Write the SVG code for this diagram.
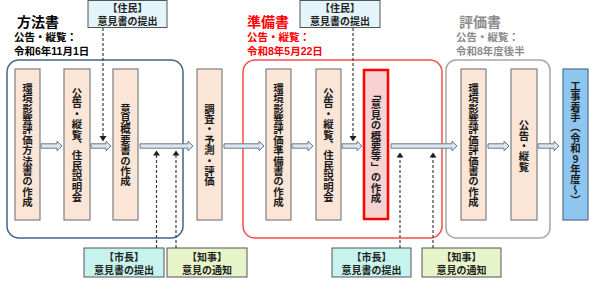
<svg xmlns="http://www.w3.org/2000/svg" width="610" height="284" viewBox="0 0 610 284">
<style>
text{font-family:"Liberation Sans","Noto Sans CJK JP",sans-serif;font-weight:bold;}
.node{fill:#fbe5d6;stroke:#7f7f7f;stroke-width:1.2;}
.vt{font-family:"Noto Sans CJK JP",sans-serif;writing-mode:vertical-rl;font-size:10.4px;fill:#1a1a1a;text-anchor:middle;}
.arr{fill:#dde5ee;stroke:#6a7a8b;stroke-width:1;}
.dash{stroke:#404040;stroke-width:1.2;stroke-dasharray:3 2;fill:none;}
.head{fill:#202020;}
.lbl{font-size:10px;fill:#222;text-anchor:middle;}
.title{font-size:14px;}
.sub{font-size:10.5px;}
.jumin{fill:#e3f4fb;stroke:#555;stroke-width:1;}
.shicho{fill:#c6f3ee;stroke:#555;stroke-width:1;}
.chiji{fill:#e7f3c9;stroke:#555;stroke-width:1;}
</style>

<g id="groups">
  <rect x="7" y="60" width="176" height="178" rx="12" fill="none" stroke="#41648f" stroke-width="1.5"/>
  <rect x="243" y="60" width="199" height="178" rx="12" fill="none" stroke="#ff4a4a" stroke-width="1.5"/>
  <rect x="446" y="60" width="104" height="178" rx="10" fill="none" stroke="#a6a6a6" stroke-width="1.5"/>
</g>

<g id="titles">
  <text class="title" x="17" y="27" fill="#000">方法書</text>
  <text class="sub" fill="#000"><tspan x="14" y="41">公告・縦覧：</tspan><tspan x="14" y="55">令和6年11月1日</tspan></text>
  <text class="title" x="247" y="27" fill="#ff0000">準備書</text>
  <text class="sub" fill="#ff0000"><tspan x="247" y="41">公告・縦覧：</tspan><tspan x="247" y="55">令和8年5月22日</tspan></text>
  <text class="title" x="459" y="27" fill="#8c8c8c">評価書</text>
  <text class="sub" fill="#8c8c8c"><tspan x="456" y="41">公告・縦覧：</tspan><tspan x="456" y="55">令和8年度後半</tspan></text>
</g>

<g id="n1"><rect class="node" x="15" y="69" width="25" height="151"/><text class="vt" x="27.5" y="145">環境影響評価方法書の作成</text></g>
<g id="n2"><rect class="node" x="64" y="69" width="26" height="151"/><text class="vt" x="77" y="145">公告・縦覧、住民説明会</text></g>
<g id="n3"><rect class="node" x="113" y="69" width="25" height="151"/><text class="vt" x="125.5" y="145">意見概要書の作成</text></g>
<g id="n4"><rect class="node" x="197" y="69" width="25" height="151"/><text class="vt" x="209.5" y="145">調査・予測・評価</text></g>
<g id="n5"><rect class="node" x="266" y="69" width="25" height="151"/><text class="vt" x="278.5" y="145">環境影響評価準備書の作成</text></g>
<g id="n6"><rect class="node" x="316" y="69" width="25" height="151"/><text class="vt" x="328.5" y="145">公告・縦覧、住民説明会</text></g>
<g id="n7"><rect x="364" y="70" width="24" height="149" fill="#f6d2d2" stroke="#ff0000" stroke-width="2.5"/><text class="vt" x="376" y="146">「意見の概要等」の作成</text></g>
<g id="n8"><rect class="node" x="461" y="69" width="25" height="151"/><text class="vt" x="473.5" y="145">環境影響評価評価書の作成</text></g>
<g id="n9"><rect class="node" x="511" y="69" width="26" height="151"/><text class="vt" x="524" y="146">公告・縦覧</text></g>
<g id="n10"><rect x="563" y="69" width="25" height="151" fill="#8ec6f0" stroke="#4f6f8c" stroke-width="1.2"/><text class="vt" x="575.5" y="143" style="text-orientation:upright">工事着手（令和9年度～）</text></g>

<g id="lbl-jumin1"><rect class="jumin" x="88" y="0.5" width="79" height="27"/><text class="lbl"><tspan x="127.5" y="12">【住民】</tspan><tspan x="127.5" y="24.5">意見書の提出</tspan></text></g>
<g id="lbl-jumin2"><rect class="jumin" x="300" y="0.5" width="80" height="27"/><text class="lbl"><tspan x="340" y="12">【住民】</tspan><tspan x="340" y="24.5">意見書の提出</tspan></text></g>
<g id="lbl-shicho1"><rect class="shicho" x="84" y="248" width="80" height="29"/><text class="lbl"><tspan x="124" y="260.5">【市長】</tspan><tspan x="124" y="273.5">意見書の提出</tspan></text></g>
<g id="lbl-chiji1"><rect class="chiji" x="167" y="248" width="80" height="29"/><text class="lbl"><tspan x="207" y="260.5">【知事】</tspan><tspan x="207" y="273.5">意見の通知</tspan></text></g>
<g id="lbl-shicho2"><rect class="shicho" x="332" y="248" width="79" height="29"/><text class="lbl"><tspan x="371.5" y="260.5">【市長】</tspan><tspan x="371.5" y="273.5">意見書の提出</tspan></text></g>
<g id="lbl-chiji2"><rect class="chiji" x="422" y="248" width="79" height="29"/><text class="lbl"><tspan x="461.5" y="260.5">【知事】</tspan><tspan x="461.5" y="273.5">意見の通知</tspan></text></g>

<g id="connectors">
  <path class="arr" d="M41,143.8H57V141.2L62,146L57,150.8V148.2H41Z"/>
  <path class="arr" d="M91,143.8H106V141.2L111,146L106,150.8V148.2H91Z"/>
  <path class="arr" d="M140,143.8H188V141.2L193,146L188,150.8V148.2H140Z"/>
  <path class="arr" d="M224,143.8H259V141.2L264,146L259,150.8V148.2H224Z"/>
  <path class="arr" d="M292,143.8H308V141.2L313,146L308,150.8V148.2H292Z"/>
  <path class="arr" d="M342,143.8H357V141.2L362,146L357,150.8V148.2H342Z"/>
  <path class="arr" d="M391,143.8H452V141.2L457,146L452,150.8V148.2H391Z"/>
  <path class="arr" d="M488,143.8H504V141.2L509,146L504,150.8V148.2H488Z"/>
  <path class="arr" d="M538,143.8H554V141.2L559,146L554,150.8V148.2H538Z"/>

  <line class="dash" x1="103" y1="28" x2="103" y2="136"/>
  <path class="head" d="M99.5,136H106.5L103,141.5Z"/>
  <line class="dash" x1="353" y1="28" x2="353" y2="136"/>
  <path class="head" d="M349.5,136H356.5L353,141.5Z"/>

  <line class="dash" x1="156.5" y1="248" x2="156.5" y2="155"/>
  <path class="head" d="M153,155.5H160L156.5,150.5Z"/>
  <line class="dash" x1="176" y1="248" x2="176" y2="155"/>
  <path class="head" d="M172.5,155.5H179.5L176,150.5Z"/>
  <line class="dash" x1="400" y1="248" x2="400" y2="157"/>
  <path class="head" d="M396.5,157.5H403.5L400,152.5Z"/>
  <line class="dash" x1="433" y1="248" x2="433" y2="157"/>
  <path class="head" d="M429.5,157.5H436.5L433,152.5Z"/>
</g>
</svg>
